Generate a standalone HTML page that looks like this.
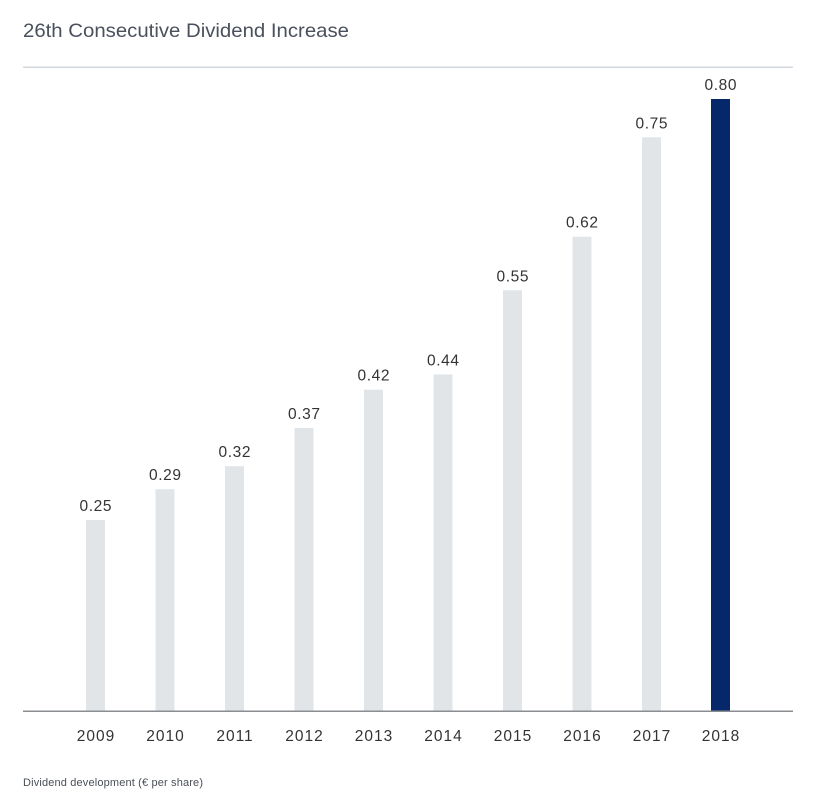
<!DOCTYPE html>
<html>
<head>
<meta charset="utf-8">
<style>
html,body{margin:0;padding:0;background:#fff;}
body{width:820px;height:810px;overflow:hidden;}
svg{display:block;}
text{font-family:"Liberation Sans",sans-serif;}
</style>
</head>
<body>
<svg width="820" height="810" viewBox="0 0 820 810" xmlns="http://www.w3.org/2000/svg">
  <text x="23" y="37" font-size="19.5" fill="#4a515c" textLength="326" lengthAdjust="spacingAndGlyphs">26th Consecutive Dividend Increase</text>
  <rect x="23" y="66.5" width="770" height="1.5" fill="#d3d8de"/>

  <g fill="#e1e5e8">
    <rect x="86" y="520" width="19" height="191"/>
    <rect x="155.5" y="489.2" width="19" height="221.8"/>
    <rect x="225" y="466.2" width="19" height="244.8"/>
    <rect x="294.5" y="428" width="19" height="283"/>
    <rect x="364" y="389.7" width="19" height="321.3"/>
    <rect x="433.5" y="374.4" width="19" height="336.6"/>
    <rect x="503" y="290.3" width="19" height="420.7"/>
    <rect x="572.5" y="236.7" width="19" height="474.3"/>
    <rect x="642" y="137.3" width="19" height="573.7"/>
  </g>
  <rect x="711" y="99" width="19" height="612" fill="#06286a"/>

  <g font-size="15.5" fill="#333" text-anchor="middle" letter-spacing="0.6">
    <text x="95.8" y="511">0.25</text>
    <text x="165.3" y="480.2">0.29</text>
    <text x="234.8" y="457.2">0.32</text>
    <text x="304.3" y="419">0.37</text>
    <text x="373.8" y="380.7">0.42</text>
    <text x="443.3" y="365.4">0.44</text>
    <text x="512.8" y="281.3">0.55</text>
    <text x="582.3" y="227.7">0.62</text>
    <text x="651.8" y="128.3">0.75</text>
    <text x="720.8" y="90">0.80</text>
  </g>

  <rect x="23" y="710.5" width="770" height="1.5" fill="#8a8d91"/>

  <g font-size="15.5" fill="#333" text-anchor="middle" letter-spacing="1">
    <text x="96" y="741">2009</text>
    <text x="165.5" y="741">2010</text>
    <text x="235" y="741">2011</text>
    <text x="304.5" y="741">2012</text>
    <text x="374" y="741">2013</text>
    <text x="443.5" y="741">2014</text>
    <text x="513" y="741">2015</text>
    <text x="582.5" y="741">2016</text>
    <text x="652" y="741">2017</text>
    <text x="721" y="741">2018</text>
  </g>

  <text x="23" y="786" font-size="11" fill="#4a4f57" textLength="180" lengthAdjust="spacing">Dividend development (€ per share)</text>
</svg>
</body>
</html>
